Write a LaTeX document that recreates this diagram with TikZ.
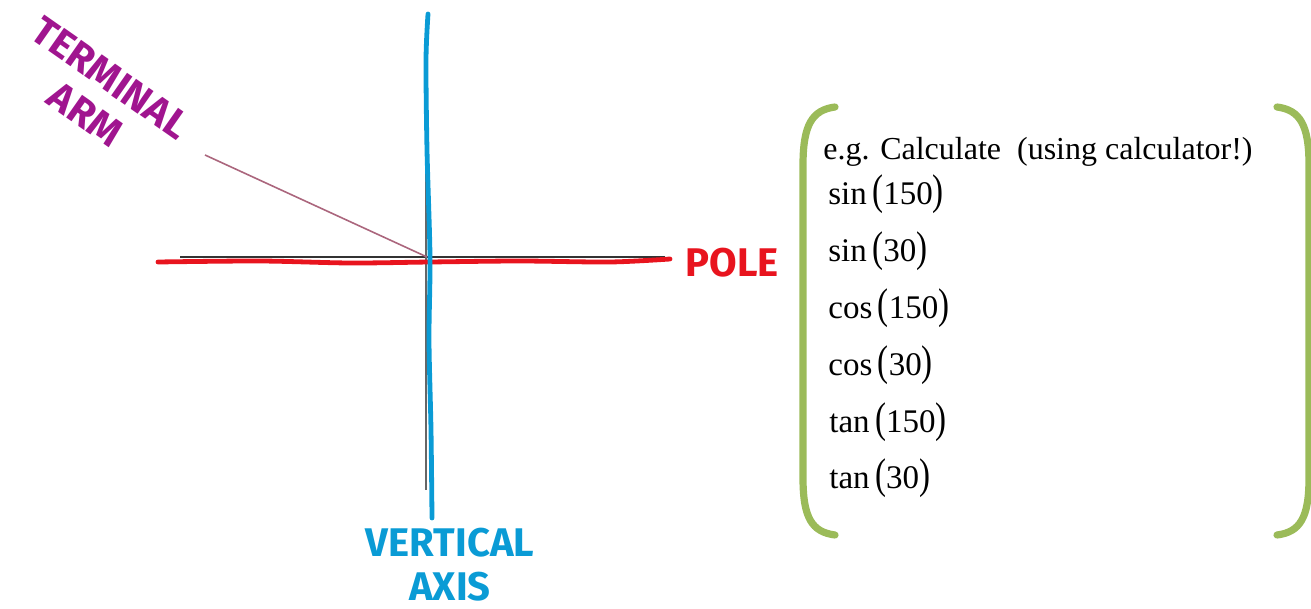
\documentclass[tikz,border=0pt]{standalone}
\usepackage{fontspec}
\setmainfont{Liberation Serif}
\setsansfont{Fira Sans}
\usetikzlibrary{positioning,calc}

\begin{document}
\begin{tikzpicture}[x=0.5pt, y=-0.5pt,
    hand/.style={font=\sffamily\bfseries\fontsize{20}{22}\selectfont, inner sep=0pt},
    bracket/.style={draw=green!40!olive!70!white, line width=3.6pt, line cap=round},
    calcText/.style={anchor=base west, inner sep=0pt, font=\fontsize{16.5}{18}\selectfont}
]
\useasboundingbox (0,0) rectangle (1311,609);
\definecolor{armPurple}{HTML}{A0158F}
\definecolor{poleRed}{HTML}{E8141E}
\definecolor{axisBlue}{HTML}{0A9BD5}
\definecolor{bracketGreen}{HTML}{9BBB59}
\newcommand{\fn}[2]{#1\,\scalebox{1}[1.3]{(}#2\scalebox{1}[1.3]{)}}

\coordinate (origin) at (427,257);
\coordinate (armEnd) at (205,155);

% axes
\draw[black!80, line width=0.9pt] (180,257) -- (665,257);
\draw[black!60, line width=1.3pt] (426,130) -- (426,490);
\draw[poleRed, line width=2.4pt, line cap=round]
  plot[smooth] coordinates {(158,262) (260,261) (350,263) (430,262) (520,261) (610,262) (670,259)};
\draw[axisBlue, line width=2.4pt, line cap=round]
  plot[smooth] coordinates {(428,14) (426,60) (427,150) (430,257) (429,340) (431,430) (432,518)};
\draw[black!40!purple!60!white, line width=0.8pt] (origin) -- (armEnd);

% labels
\node[hand, armPurple, rotate=-35, align=center] (armLabel) at (98,96) {TERMINAL\\ARM};
\node[hand, poleRed, anchor=west] (poleLabel) at (685,263) {POLE};
\node[hand, axisBlue, align=center] (axisLabel) at (450,565) {VERTICAL\\AXIS};

% brackets
\draw[bracket, bracketGreen] (835,107) .. controls (812,110) and (803,125) .. (803,165)
  -- (803,478) .. controls (803,518) and (812,532) .. (835,535);
\draw[bracket, bracketGreen] (1277,107) .. controls (1300,110) and (1309,125) .. (1309,165)
  -- (1309,478) .. controls (1309,518) and (1300,532) .. (1277,535);

% calculation list
\node[calcText, font=\fontsize{16}{18}\selectfont] (calcTitle) at (823,160) {e.g. Calculate\ \ (using calculator!)};
\node[calcText] (sinA) at (828,205) {\fn{sin}{150}};
\node[calcText] (sinB) at (828,262) {\fn{sin}{30}};
\node[calcText] (cosA) at (828,318) {\fn{cos}{150}};
\node[calcText] (cosB) at (828,375) {\fn{cos}{30}};
\node[calcText] (tanA) at (829,432) {\fn{tan}{150}};
\node[calcText] (tanB) at (829,488) {\fn{tan}{30}};
\end{tikzpicture}
\end{document}
